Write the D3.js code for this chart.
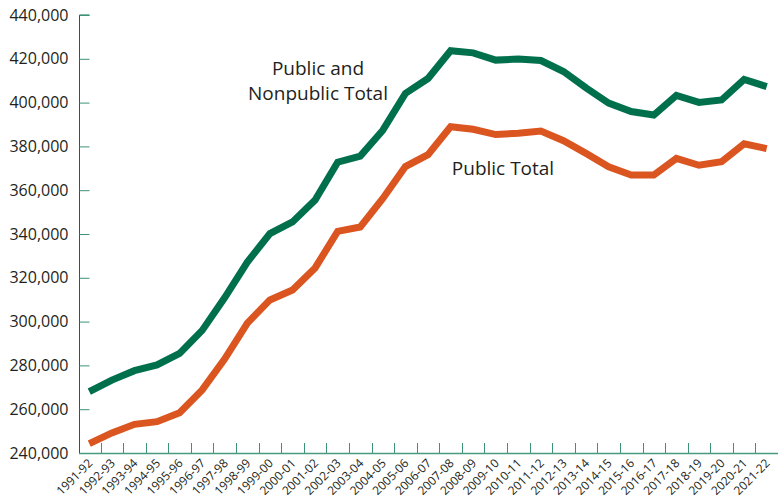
<!DOCTYPE html>
<html>
<head>
<meta charset="utf-8">
<script src="https://cdn.jsdelivr.net/npm/d3@7"></script>
<style>
  body { margin: 0; background: #fff; }
  text { font-family: "Open Sans", sans-serif; fill: #231f20; }
</style>
</head>
<body>
<div class="canvas"></div>
<script>
const [width, height] = [778, 499];

const years = ['1991-92','1992-93','1993-94','1994-95','1995-96','1996-97','1997-98','1998-99',
  '1999-00','2000-01','2001-02','2002-03','2003-04','2004-05','2005-06','2006-07','2007-08',
  '2008-09','2009-10','2010-11','2011-12','2012-13','2013-14','2014-15','2015-16','2016-17',
  '2017-18','2018-19','2019-20','2020-21','2021-22'];

// public and nonpublic total
const allTotal = [268000, 273300, 277600, 280200, 285500, 296000, 311000, 327200, 340200, 345500,
  355500, 372800, 375600, 387400, 404200, 411000, 423700, 422700, 419400, 419900,
  419200, 414200, 406700, 399800, 395900, 394300, 403300, 400100, 401200, 410600, 407300];

// public total
const publicTotal = [244300, 249200, 253100, 254300, 258400, 268800, 283000, 299300, 309900, 314400,
  324500, 341200, 343200, 356200, 370800, 376200, 389000, 387800, 385400, 386000,
  387000, 382600, 376800, 370700, 366900, 366900, 374500, 371400, 373000, 381200, 379000];

const yTicks = [240000, 260000, 280000, 300000, 320000, 340000, 360000, 380000, 400000, 420000, 440000];

const svg = d3.select('.canvas')
  .append('svg')
  .attr('width', width)
  .attr('height', height);

const x = d3.scaleBand().domain(years).range([78, 778]);
const y = d3.scaleLinear().domain([240000, 440000]).range([453, 15]);

// y axis
const yAxis = svg.append('g')
  .attr('transform', 'translate(79.5,0)')
  .call(d3.axisLeft(y).tickValues(yTicks).tickFormat(d3.format(',')).tickSize(-10).tickPadding(11));
yAxis.selectAll('line').attr('stroke', '#3f9274');
yAxis.select('.domain').attr('stroke', '#00704a').attr('d', `M0,${y(440000)}H10M0,${y(440000)}V${y(240000)}`);
yAxis.selectAll('text')
  .style('font-size', '16px')
  .style('font-family', '"Open Sans", sans-serif')
  .attr('fill', '#231f20');

// x axis line
svg.append('line')
  .attr('x1', 79).attr('x2', width)
  .attr('y1', 453.5).attr('y2', 453.5)
  .attr('stroke', '#4a9b7d')
  .attr('stroke-width', 1.3);

// x ticks on category boundaries
svg.selectAll('line.xtick')
  .data(years.slice(1))
  .enter()
  .append('line')
  .attr('class', 'xtick')
  .attr('x1', d => Math.round(x(d)) + 0.5)
  .attr('x2', d => Math.round(x(d)) + 0.5)
  .attr('y1', 443)
  .attr('y2', 453)
  .attr('stroke', '#3f9274');

svg.selectAll('text.xlab')
  .data(years)
  .enter()
  .append('text')
  .attr('class', 'xlab')
  .attr('transform', d => `translate(${x(d) + x.bandwidth() / 2 + 4},${464}) rotate(-45)`)
  .attr('text-anchor', 'end')
  .style('font-size', '12px')
  .text(d => d);

const line = d3.line()
  .x((d, i) => x(years[i]) + x.bandwidth() / 2)
  .y(d => y(d));

svg.append('path')
  .datum(publicTotal)
  .attr('d', line)
  .attr('fill', 'none')
  .attr('stroke', '#db5520')
  .attr('stroke-width', 7);

svg.append('path')
  .datum(allTotal)
  .attr('d', line)
  .attr('fill', 'none')
  .attr('stroke', '#00704c')
  .attr('stroke-width', 7);

// labels
const lab = svg.append('text')
  .attr('text-anchor', 'middle')
  .style('font-size', '19px');
lab.append('tspan').attr('x', 318).attr('y', 75).text('Public and');
lab.append('tspan').attr('x', 318).attr('y', 100).text('Nonpublic Total');

svg.append('text')
  .attr('x', 503)
  .attr('y', 175)
  .attr('text-anchor', 'middle')
  .style('font-size', '19px')
  .text('Public Total');
</script>
</body>
</html>
